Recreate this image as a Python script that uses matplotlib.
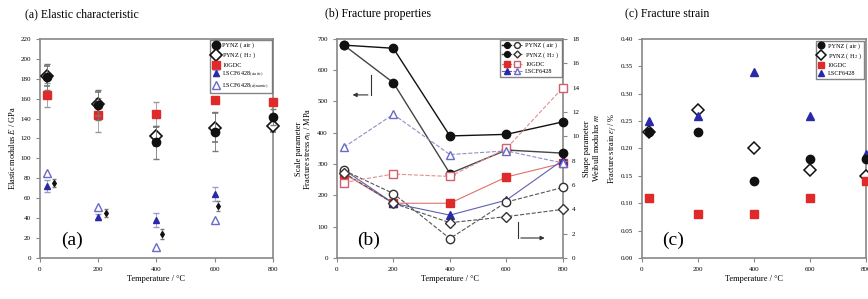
import matplotlib
matplotlib.use("Agg")
import matplotlib.pyplot as plt
from matplotlib.legend_handler import HandlerTuple

plt.rcParams['font.family'] = ['Liberation Serif', 'DejaVu Serif']
plt.rcParams['mathtext.fontset'] = 'stix'

temps = [25, 200, 400, 600, 800]
blk = '#111111'
red = '#e02a2a'
blu = '#2a2aa8'
lblu = '#6a6ac8'

# (a) elastic modulus, GPa
E_air = [182, 154, 116, 127, 142]
E_air_err = [13, 15, 17, 20, 8]
E_h2 = [183, 155, 122, 131, 133]
E_h2_err = [10, 12, 10, 15, 6]
E_gdc = [164, 144, 145, 159, 157]
E_gdc_err = [12, 17, 12, 3, 3]
temps_lscf = [25, 200, 400, 600]
E_lscf_st = [72, 41, 38, 64]
E_lscf_st_err = [6, 3, 7, 7]
E_lscf_dy = [85, 51, 11, 38]
temps_shift = [50, 228, 418, 612]
E_shift = [75, 45, 24, 52]
E_shift_err = [4, 4, 5, 5]

# (b) fracture stress (MPa, left) and Weibull modulus (right)
S_air = [680, 670, 390, 395, 435]
S_h2 = [680, 560, 270, 345, 335]
S_gdc = [270, 175, 175, 259, 303]
S_lscf = [282, 175, 137, 185, 313]
m_air = [7.2, 5.3, 1.6, 4.6, 5.8]
m_h2 = [7.0, 4.5, 2.9, 3.4, 4.0]
m_gdc = [6.2, 6.9, 6.7, 9.0, 14.0]
m_lscf = [9.1, 11.8, 8.5, 8.8, 7.8]

# (c) fracture strain, %
f_air = [0.23, 0.23, 0.14, 0.18, 0.18]
f_h2 = [0.23, 0.27, 0.20, 0.16, 0.15]
f_gdc = [0.11, 0.08, 0.08, 0.11, 0.14]
f_lscf = [0.25, 0.26, 0.34, 0.26, 0.19]

fig = plt.figure(figsize=(8.68, 2.99), dpi=100)
axa = fig.add_axes([0.046, 0.137, 0.2685, 0.733])
axb = fig.add_axes([0.388, 0.137, 0.2606, 0.733])
axc = fig.add_axes([0.7396, 0.137, 0.2580, 0.733])


def style(ax):
    for s in ax.spines.values():
        s.set_color('#888888')
        s.set_linewidth(1.2)
    ax.tick_params(labelsize=5, length=3, color='#888888', direction='out')
    ax.set_xlim(0, 800)
    ax.set_xticks([0, 200, 400, 600, 800])
    ax.set_xlabel('Temperature / \u00b0C', fontsize=6, labelpad=2)


def noclip(obj):
    for a in obj.get_children() if hasattr(obj, 'get_children') else [obj]:
        a.set_clip_on(False)


# ---- (a)
ax = axa
style(ax)
eb_gdc = ax.errorbar(temps, E_gdc, yerr=E_gdc_err, fmt='s', color=red, ms=6, capsize=2,
                     elinewidth=0.6, ecolor='#999999', zorder=3)
eb_h2 = ax.errorbar(temps, E_h2, yerr=E_h2_err, fmt='D', mfc='white', mec=blk, color=blk,
                    ms=6, capsize=2, elinewidth=0.6, ecolor='#777777', mew=1.2, zorder=4)
eb_air = ax.errorbar(temps, E_air, yerr=E_air_err, fmt='o', color=blk, ms=6, capsize=2,
                     elinewidth=0.6, ecolor='#777777', zorder=5)
eb_st = ax.errorbar(temps_lscf, E_lscf_st, yerr=E_lscf_st_err, fmt='^', color=blu, ms=5,
                    capsize=2, elinewidth=0.6, ecolor='#9999cc', zorder=4)
p_dy = ax.plot(temps_lscf, E_lscf_dy, '^', mfc='white', mec=lblu, ms=6, mew=1, zorder=4)[0]
ax.errorbar(temps_shift, E_shift, yerr=E_shift_err, fmt='d', color=blk, ms=3,
            capsize=1.5, elinewidth=0.6, ecolor='#777777', zorder=4)
for eb in (eb_gdc, eb_h2, eb_air):
    noclip(eb)
ax.set_ylim(0, 220)
ax.set_yticks(range(0, 221, 20))
ax.set_ylabel('Elastic modulus $E$ / GPa', fontsize=6, labelpad=2)
ax.legend([eb_air, eb_h2, eb_gdc, eb_st, p_dy],
          ['PYNZ ( air )', 'PYNZ ( H$_2$ )', '10GDC', 'LSCF6428$_{(static)}$',
           'LSCF6428$_{(dynamic)}$'],
          loc='upper right', fontsize=4.5,
          frameon=True, fancybox=False, edgecolor='#666666', handlelength=1,
          borderpad=0.4, labelspacing=0.35, handletextpad=0.5, borderaxespad=0.2)
ax.text(0.09, 0.06, '(a)', transform=ax.transAxes, fontsize=14)

# ---- (b)
ax = axb
style(ax)
ax2 = ax.twinx()
for s in ax2.spines.values():
    s.set_visible(False)
ax2.tick_params(labelsize=5, length=3, color='#888888', direction='out')
h_air = ax.plot(temps, S_air, '-o', color=blk, lw=1, ms=6, mfc=blk, zorder=5, clip_on=False)[0]
h_h2 = ax.plot(temps, S_h2, '-o', color='#444444', lw=1, ms=6, mfc=blk, mec=blk, zorder=5,
               clip_on=False)[0]
h_gdc = ax.plot(temps, S_gdc, '-s', color='#e07070', lw=0.8, ms=5.5, mfc=red, mec=red, zorder=4,
                clip_on=False)[0]
h_lscf = ax.plot(temps, S_lscf, '-^', color='#6060b0', lw=0.8, ms=5.5, mfc=blu, mec=blu, zorder=4,
                 clip_on=False)[0]
o_air = ax2.plot(temps, m_air, '--o', color='#555555', lw=0.8, ms=6, mfc='white', mec='#333333',
                 clip_on=False)[0]
o_h2 = ax2.plot(temps, m_h2, '--D', color='#555555', lw=0.8, ms=5, mfc='white', mec='#333333',
                clip_on=False)[0]
o_gdc = ax2.plot(temps, m_gdc, '--s', color='#e09090', lw=0.8, ms=6, mfc='white', mec='#d06070',
                 clip_on=False)[0]
o_lscf = ax2.plot(temps, m_lscf, '--^', color='#9090c8', lw=0.8, ms=6, mfc='white', mec=lblu,
                  clip_on=False)[0]
ax.set_ylim(0, 700)
ax.set_yticks(range(0, 701, 100))
ax2.set_ylim(0, 18)
ax2.set_yticks(range(0, 19, 2))
ax.set_ylabel('Scale parameter\nFracture stress $\\sigma_{0}$ / MPa', fontsize=6, labelpad=2,
              linespacing=1.0)
ax2.set_ylabel('Shape parameter\nWeibull modulus $m$', fontsize=6, labelpad=3,
               linespacing=1.0)
ax2.legend([(h_air, o_air), (h_h2, o_h2), (h_gdc, o_gdc), (h_lscf, o_lscf)],
           ['PYNZ ( air )', 'PYNZ ( H$_2$ )', '10GDC', 'LSCF6428'],
           handler_map={tuple: HandlerTuple(ndivide=None, pad=0.2)},
           loc='upper right', fontsize=4.5, frameon=True, fancybox=False,
           edgecolor='#666666', handlelength=3.2, borderpad=0.4,
           labelspacing=0.3, handletextpad=0.5, borderaxespad=0.2, markerscale=0.7)
ax.annotate('', xy=(46, 521), xytext=(120, 521),
            arrowprops=dict(arrowstyle='-|>', color='#333333', lw=0.8, mutation_scale=6))
ax.plot([120, 120], [521, 585], color='#333333', lw=0.8)
ax.annotate('', xy=(745, 64), xytext=(641, 64),
            arrowprops=dict(arrowstyle='-|>', color='#333333', lw=0.8, mutation_scale=6))
ax.plot([641, 641], [64, 115], color='#333333', lw=0.8)
ax.text(0.09, 0.06, '(b)', transform=ax.transAxes, fontsize=14)

# ---- (c)
ax = axc
style(ax)
ax.plot(temps, f_air, 'o', color=blk, ms=6, label='PYNZ ( air )', zorder=5, clip_on=False)
ax.plot(temps, f_h2, 'D', mfc='white', mec=blk, ms=6, mew=1.1, label='PYNZ ( H$_2$ )', zorder=4,
        clip_on=False)
ax.plot(temps, f_gdc, 's', color=red, ms=6, label='10GDC', zorder=4, clip_on=False)
ax.plot(temps, f_lscf, '^', color=blu, ms=6, label='LSCF6428', zorder=4, clip_on=False)
ax.set_ylim(0, 0.40)
ax.set_yticks([0, 0.05, 0.10, 0.15, 0.20, 0.25, 0.30, 0.35, 0.40])
ax.set_yticklabels(['%.2f' % v for v in ax.get_yticks()])
ax.set_ylabel('Fracture strain $\\varepsilon_{f}$ / %', fontsize=6, labelpad=2)
ax.legend(loc='upper right', fontsize=4.5, frameon=True, fancybox=False,
          edgecolor='#666666', handlelength=1, borderpad=0.4, labelspacing=0.35,
          handletextpad=0.5, borderaxespad=0.3, markerscale=0.8)
ax.text(0.09, 0.06, '(c)', transform=ax.transAxes, fontsize=14)

fig.text(25 / 868, 1 - 14 / 299, '(a) Elastic characteristic', fontsize=8.5, va='center')
fig.text(325 / 868, 1 - 14 / 299, '(b) Fracture properties', fontsize=8.5, va='center')
fig.text(625 / 868, 1 - 14 / 299, '(c) Fracture strain', fontsize=8.5, va='center')

fig.savefig('out.png', dpi=100)
